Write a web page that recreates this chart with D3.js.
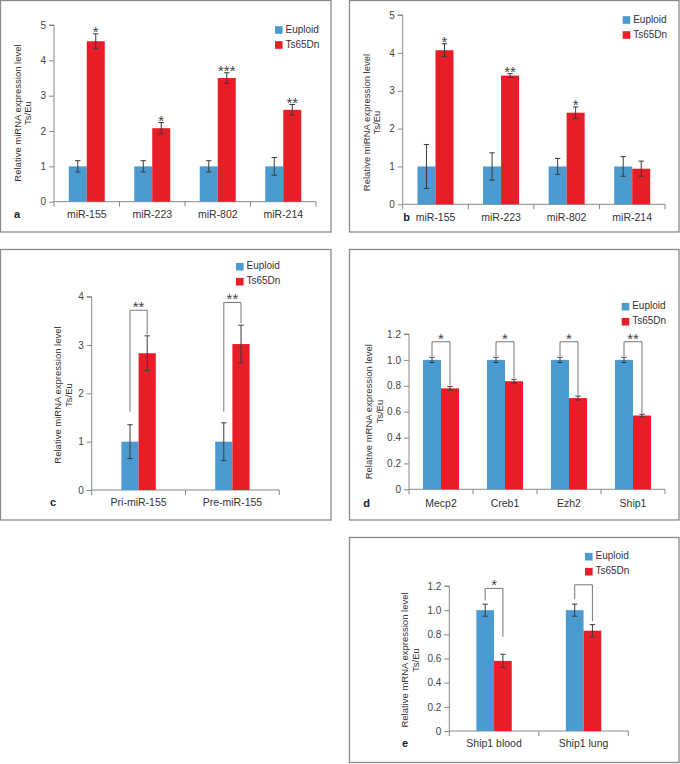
<!DOCTYPE html>
<html><head><meta charset="utf-8">
<script src="https://cdn.jsdelivr.net/npm/d3@7"></script>
<style>body{margin:0;background:#fff} text{font-family:"Liberation Sans",Arial,sans-serif}</style>
</head><body><svg id="chart" width="680" height="764"></svg>
<script>
const seriesNames = ["Euploid", "Ts65Dn"];
const seriesColors = ["#4b9bd1", "#e71e28"];

// Panel a
const aCategories = ["miR-155", "miR-223", "miR-802", "miR-214"];
const aEuploid = [1, 1, 1, 1];
const aEuploidErr = [0.16, 0.16, 0.16, 0.25];
const aTs65Dn = [4.54, 2.08, 3.5, 2.6];
const aTs65DnErr = [0.21, 0.16, 0.15, 0.15];
const aSignif = ["*", "*", "***", "**"];
const aTicks = [0, 1, 2, 3, 4, 5];

// Panel b
const bCategories = ["miR-155", "miR-223", "miR-802", "miR-214"];
const bEuploid = [1, 1, 1, 1];
const bEuploidErr = [0.58, 0.36, 0.21, 0.26];
const bTs65Dn = [4.07, 3.4, 2.42, 0.94];
const bTs65DnErr = [0.17, 0.05, 0.15, 0.2];
const bSignif = ["*", "**", "*", ""];
const bTicks = [0, 1, 2, 3, 4, 5];

// Panel c
const cCategories = ["Pri-miR-155", "Pre-miR-155"];
const cEuploid = [1, 1];
const cEuploidErr = [0.35, 0.39];
const cTs65Dn = [2.83, 3.02];
const cTs65DnErr = [0.36, 0.39];
const cSignif = ["**", "**"];
const cBracketTop = [3.72, 3.88];
const cBracketLeft = [1.62, 1.62];
const cBracketRight = [3.22, 3.45];
const cTicks = [0, 1, 2, 3, 4];

// Panel d
const dCategories = ["Mecp2", "Creb1", "Ezh2", "Ship1"];
const dEuploid = [1, 1, 1, 1];
const dEuploidErr = [0.02, 0.02, 0.02, 0.02];
const dTs65Dn = [0.78, 0.835, 0.705, 0.57];
const dTs65DnErr = [0.015, 0.015, 0.015, 0.01];
const dSignif = ["*", "*", "*", "**"];
const dBracketTop = [1.14, 1.14, 1.14, 1.14];
const dBracketLeft = [1.03, 1.03, 1.03, 1.03];
const dBracketRight = [0.805, 0.86, 0.725, 0.585];
const dTicks = [0, 0.2, 0.4, 0.6, 0.8, 1.0, 1.2];

// Panel e
const eCategories = ["Ship1 blood", "Ship1 lung"];
const eEuploid = [1, 1];
const eEuploidErr = [0.05, 0.05];
const eTs65Dn = [0.58, 0.83];
const eTs65DnErr = [0.055, 0.05];
const eSignif = ["*", ""];
const eBracketTop = [1.18, 1.21];
const eBracketLeft = [1.08, 1.09];
const eBracketRight = [0.78, 0.91];
const eTicks = [0, 0.2, 0.4, 0.6, 0.8, 1.0, 1.2];

const svg = d3.select("#chart");

const panels = [
  {letter: "a", box: [0.5, 0.5, 331, 232], xr: [54, 316], yr: [201.7, 25], yMax: 5, barW: 18,
   cats: aCategories, eu: aEuploid, euErr: aEuploidErr, ts: aTs65Dn, tsErr: aTs65DnErr, sig: aSignif,
   ticks: aTicks, fmt: d3.format("d"), mode: "star",
   leg: [275, 30], ylab: [18.5, 28, 113], ylabText: "Relative miRNA expression level", catY: 215, letterPos: [17, 215]},
  {letter: "b", box: [349.5, 0.5, 679, 232], xr: [402.7, 665], yr: [204.3, 15], yMax: 5, barW: 18,
   cats: bCategories, eu: bEuploid, euErr: bEuploidErr, ts: bTs65Dn, tsErr: bTs65DnErr, sig: bSignif,
   ticks: bTicks, fmt: d3.format("d"), mode: "star",
   leg: [622.7, 20], ylab: [367.5, 377, 122.5], ylabText: "Relative miRNA expression level", catY: 218, letterPos: [406.7, 218]},
  {letter: "c", box: [0.5, 249.5, 331, 520], xr: [91.7, 279.3], yr: [490, 296.7], yMax: 4, barW: 17.2,
   cats: cCategories, eu: cEuploid, euErr: cEuploidErr, ts: cTs65Dn, tsErr: cTs65DnErr, sig: cSignif,
   bTop: cBracketTop, bLeft: cBracketLeft, bRight: cBracketRight,
   ticks: cTicks, fmt: d3.format("d"), mode: "bracket",
   leg: [236, 266.7], ylab: [58.5, 69.5, 395], ylabText: "Relative miRNA expression level", catY: 503, letterPos: [53, 503]},
  {letter: "d", box: [349.5, 249.5, 679, 520], xr: [409, 665], yr: [489.3, 334], yMax: 1.2, barW: 18,
   cats: dCategories, eu: dEuploid, euErr: dEuploidErr, ts: dTs65Dn, tsErr: dTs65DnErr, sig: dSignif,
   bTop: dBracketTop, bLeft: dBracketLeft, bRight: dBracketRight,
   ticks: dTicks, fmt: v => v === 0 ? "0" : d3.format(".1f")(v), mode: "bracket",
   leg: [621.7, 306.7], ylab: [369.5, 380, 411.7], ylabText: "Relative mRNA expression level", catY: 504, letterPos: [366.7, 504]},
  {letter: "e", box: [349.5, 537.5, 679, 762.5], xr: [449.3, 628.3], yr: [731, 586], yMax: 1.2, barW: 17.7,
   cats: eCategories, eu: eEuploid, euErr: eEuploidErr, ts: eTs65Dn, tsErr: eTs65DnErr, sig: eSignif,
   bTop: eBracketTop, bLeft: eBracketLeft, bRight: eBracketRight,
   ticks: eTicks, fmt: v => v === 0 ? "0" : d3.format(".1f")(v), mode: "bracket",
   leg: [585, 556.7], ylab: [405.5, 416.5, 660], ylabText: "Relative mRNA expression level", catY: 744, letterPos: [405, 744]}
];

panels.forEach(p => {
  const g = svg.append("g");
  // border
  g.append("rect").attr("x", p.box[0]).attr("y", p.box[1])
    .attr("width", p.box[2] - p.box[0]).attr("height", p.box[3] - p.box[1])
    .attr("fill", "none").attr("stroke", "#8a8a8a").attr("stroke-width", 1.3);

  const x = d3.scaleBand().domain(p.cats).range(p.xr);
  const xs = d3.scaleBand().domain(seriesNames).range([-p.barW, p.barW]);
  const y = d3.scaleLinear().domain([0, p.yMax]).range(p.yr);

  // y axis
  const yAxis = d3.axisLeft(y).tickValues(p.ticks).tickFormat(p.fmt).tickSize(5).tickPadding(3);
  const ya = g.append("g").attr("transform", `translate(${p.xr[0]},0)`).call(yAxis);
  ya.select(".domain").attr("stroke", "#888").attr("d", `M-5,${p.yr[1]}H0V${p.yr[0]}`);
  ya.selectAll(".tick line").attr("stroke", "#888");
  ya.selectAll(".tick text").attr("fill", "#444").style("font-size", "10px")
    .style("font-family", '"Liberation Sans",Arial,sans-serif');

  // x axis line + boundary ticks
  g.append("line").attr("x1", p.xr[0]).attr("x2", p.xr[1]).attr("y1", p.yr[0]).attr("y2", p.yr[0])
    .attr("stroke", "#888");
  const bounds = p.cats.map(c => x(c) + x.bandwidth()).concat([p.xr[0]]);
  g.selectAll(".xt").data(bounds).enter().append("line")
    .attr("x1", d => d).attr("x2", d => d).attr("y1", p.yr[0]).attr("y2", p.yr[0] + 5)
    .attr("stroke", "#888");
  g.selectAll(".cl").data(p.cats).enter().append("text")
    .attr("x", d => x(d) + x.bandwidth() / 2).attr("y", p.catY)
    .attr("text-anchor", "middle").attr("dominant-baseline", "middle")
    .attr("fill", "#333").style("font-size", "10.5px").text(d => d);

  // bars
  const rows = p.cats.map((c, i) => ({c, i, vals: [
    {s: seriesNames[0], v: p.eu[i], e: p.euErr[i], col: seriesColors[0]},
    {s: seriesNames[1], v: p.ts[i], e: p.tsErr[i], col: seriesColors[1]}]}));
  const bg = g.selectAll(".grp").data(rows).enter().append("g")
    .attr("transform", d => `translate(${x(d.c) + x.bandwidth() / 2},0)`);
  bg.selectAll("rect").data(d => d.vals).enter().append("rect")
    .attr("x", d => xs(d.s)).attr("width", xs.bandwidth())
    .attr("y", d => y(d.v)).attr("height", d => y(0) - y(d.v))
    .attr("fill", d => d.col);
  // error bars
  const eb = bg.selectAll(".eb").data(d => d.vals).enter().append("g")
    .attr("transform", d => `translate(${xs(d.s) + xs.bandwidth() / 2},0)`);
  eb.append("line").attr("x1", 0).attr("x2", 0)
    .attr("y1", d => y(d.v - d.e)).attr("y2", d => y(d.v + d.e)).attr("stroke", "#3a3a3a").attr("stroke-width", 1);
  eb.append("line").attr("x1", -2.7).attr("x2", 2.7)
    .attr("y1", d => y(d.v + d.e)).attr("y2", d => y(d.v + d.e)).attr("stroke", "#3a3a3a").attr("stroke-width", 1);
  eb.append("line").attr("x1", -2.7).attr("x2", 2.7)
    .attr("y1", d => y(d.v - d.e)).attr("y2", d => y(d.v - d.e)).attr("stroke", "#3a3a3a").attr("stroke-width", 1);

  // significance
  if (p.mode === "star") {
    g.selectAll(".sig").data(rows).enter().append("text")
      .attr("x", d => x(d.c) + x.bandwidth() / 2 + p.barW / 2)
      .attr("y", d => y(p.ts[d.i] + p.tsErr[d.i]) + 3)
      .attr("text-anchor", "middle").attr("fill", "#444").style("font-size", "15px")
      .text(d => p.sig[d.i]);
  } else {
    const bk = g.selectAll(".bk").data(rows).enter().append("g");
    bk.append("path")
      .attr("d", d => {
        const cx = x(d.c) + x.bandwidth() / 2;
        const lx = cx - p.barW / 2, rx = cx + p.barW / 2;
        return `M${lx},${y(p.bLeft[d.i])}V${y(p.bTop[d.i])}H${rx}V${y(p.bRight[d.i])}`;
      })
      .attr("fill", "none").attr("stroke", "#777").attr("stroke-width", 1);
    bk.append("text")
      .attr("x", d => x(d.c) + x.bandwidth() / 2)
      .attr("y", d => y(p.bTop[d.i]) + 2)
      .attr("text-anchor", "middle").attr("fill", "#444").style("font-size", "15px")
      .text(d => p.sig[d.i]);
  }

  // legend
  const lg = g.selectAll(".lg").data(seriesNames).enter().append("g")
    .attr("transform", (d, i) => `translate(${p.leg[0]},${p.leg[1] + i * 15})`);
  lg.append("rect").attr("x", 0).attr("y", -3.8).attr("width", 7.6).attr("height", 7.6)
    .attr("fill", (d, i) => seriesColors[i]);
  lg.append("text").attr("x", 10.5).attr("y", 0).attr("dominant-baseline", "middle")
    .attr("fill", "#333").style("font-size", "10px").text(d => d);

  // y label
  g.append("text").attr("text-anchor", "middle").attr("fill", "#333").style("font-size", "9.5px")
    .attr("dominant-baseline", "middle")
    .attr("transform", `translate(${p.ylab[0]},${p.ylab[2]}) rotate(-90)`).text(p.ylabText);
  g.append("text").attr("text-anchor", "middle").attr("fill", "#333").style("font-size", "9.5px")
    .attr("dominant-baseline", "middle")
    .attr("transform", `translate(${p.ylab[1]},${p.ylab[2]}) rotate(-90)`).text("Ts/Eu");

  // panel letter
  g.append("text").attr("x", p.letterPos[0]).attr("y", p.letterPos[1])
    .attr("text-anchor", "middle").attr("dominant-baseline", "middle")
    .attr("font-weight", "bold").attr("fill", "#222").style("font-size", "11px").text(p.letter);
});
</script></body></html>
